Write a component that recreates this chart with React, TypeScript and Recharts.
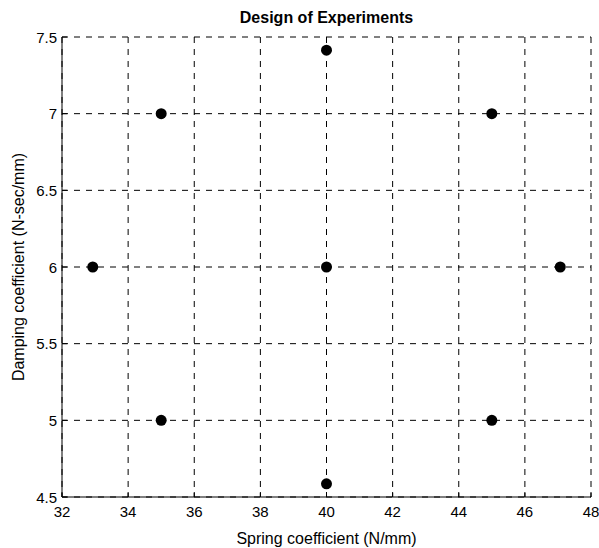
import { CartesianGrid, Scatter, ScatterChart, XAxis, YAxis } from "recharts";

// central composite design points
const spring = [35, 45, 35, 45, 32.93, 47.07, 40, 40, 40];
const damping = [7, 7, 5, 5, 6, 6, 7.414, 4.586, 6];
const xTicks = [32, 34, 36, 38, 40, 42, 44, 46, 48];
const yTicks = [4.5, 5, 5.5, 6, 6.5, 7, 7.5];

const data = spring.map((s, i) => ({ x: s, y: damping[i] }));

const font = "Arial, 'Liberation Sans', Helvetica, sans-serif";

function XTick(props: any) {
  const { x, y, payload } = props;
  return (
    <g>
      <line x1={x} y1={y} x2={x} y2={y - 5} stroke="#000" />
      <text x={x} y={y + 20} textAnchor="middle" fontSize={15} fontFamily={font} fill="#000">
        {payload.value}
      </text>
    </g>
  );
}

function YTick(props: any) {
  const { x, y, payload } = props;
  return (
    <g>
      <line x1={x} y1={y} x2={x + 5} y2={y} stroke="#000" />
      <text x={x - 5} y={y + 5.5} textAnchor="end" fontSize={15} fontFamily={font} fill="#000">
        {payload.value}
      </text>
    </g>
  );
}

export default function App() {
  return (
    <div style={{ position: "absolute", left: 0, top: 0, width: 599, height: 548, background: "#fff" }}>
      <div
        style={{
          position: "absolute",
          left: 62,
          width: 529,
          top: 9,
          lineHeight: "18px",
          textAlign: "center",
          fontFamily: font,
          fontWeight: "bold",
          fontSize: 16,
        }}
      >
        Design of Experiments
      </div>
      <ScatterChart width={599} height={548} margin={{ top: 37, right: 8, bottom: 0, left: 0 }}>
        <CartesianGrid stroke="#000" strokeDasharray="6 6" />
        <XAxis
          type="number"
          dataKey="x"
          domain={[32, 48]}
          ticks={xTicks}
          interval={0}
          height={51}
          tickSize={0}
          tickMargin={0}
          tickLine={false}
          tick={<XTick />}
          axisLine={{ stroke: "#000" }}
          label={{
            value: "Spring coefficient (N/mm)",
            position: "insideBottom",
            offset: 4,
            fontSize: 16,
            fontFamily: font,
            fill: "#000",
          }}
        />
        <YAxis
          type="number"
          dataKey="y"
          domain={[4.5, 7.5]}
          ticks={yTicks}
          interval={0}
          width={62}
          tickSize={0}
          tickMargin={0}
          tickLine={false}
          tick={<YTick />}
          axisLine={{ stroke: "#000" }}
          label={{
            value: "Damping coefficient (N-sec/mm)",
            angle: -90,
            position: "insideLeft",
            offset: 18,
            style: { textAnchor: "middle" },
            fontSize: 16,
            fontFamily: font,
            fill: "#000",
          }}
        />
        <Scatter
          data={data}
          isAnimationActive={false}
          shape={(p: any) => <circle cx={p.cx} cy={p.cy} r={5.5} fill="#000" />}
        />
      </ScatterChart>
    </div>
  );
}
